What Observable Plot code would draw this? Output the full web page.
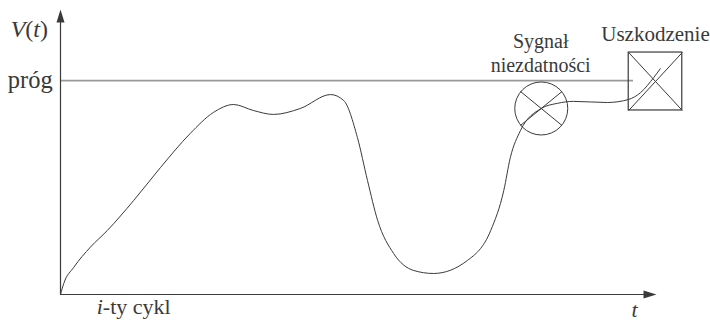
<!DOCTYPE html>
<html><head><meta charset="utf-8">
<script src="https://cdn.jsdelivr.net/npm/d3@7"></script>
<script src="https://cdn.jsdelivr.net/npm/@observablehq/plot@0.6"></script>
<style>
body{margin:0;background:#fff} svg{display:block}
svg text, svg tspan { font-family: "Liberation Serif", "Times New Roman", serif !important; }
</style>
</head><body><div id="chart"></div>
<script>
// Degradation signal V(t) over time (abstract units, 0–100)
const curveT = [0, 0.55, 2.24, 5.04, 7.85, 12.3, 16.8, 21.8, 25.7, 29.1, 32.4, 35.8, 40.3, 45.4, 47.6, 49.9, 51.6, 53.3, 56.0, 59.3, 62.7, 68.4, 72.3, 74.5, 75.6, 77.3, 80.8, 83.5, 86.2, 91.9, 95.5, 97.5, 99.7, 100.8];
const curveV = [0, 3.9, 9.6, 16.7, 22.5, 33.1, 44.7, 56.7, 64.1, 66.9, 64.8, 63.4, 65.5, 70.4, 68.3, 55.3, 40.1, 26.1, 14.4, 8.5, 7.4, 12.0, 22.5, 36.6, 48.2, 57.7, 65.5, 67.3, 68.0, 67.6, 68.7, 71.1, 76.4, 79.5];
const thresholdV = 75.3;
const thresholdEnd = 96.3;
// Failure-signal marker (circle with cross)
const signalT = 80.8, signalV = 65.5;
const signalCrossT = [[77.3, 84.3], [77.3, 84.3]];
const signalCrossV = [[71.5, 59.5], [59.5, 71.5]];
// Damage marker (box with cross)
const damageT = [95.5, 104.5];
const damageV = [64.8, 85.2];
// Labels
const axisLabels = ["V(t)", "próg", "i-ty cykl", "t"];
const noteLabels = ["Sygnał\nniezdatności", "Uszkodzenie"];

const curve = curveT.map((t, i) => ({t, v: curveV[i]}));
const ink = "#3a3a3a";
const font = '"Liberation Serif", "Times New Roman", serif';

const arrowHead = {draw(ctx) { ctx.moveTo(1, 0); ctx.lineTo(-12, -4); ctx.lineTo(-12, 4); ctx.closePath(); }};
const txt = {text: d => d, fill: ink, fontSize: 20};

const chart = Plot.plot({
  width: 710, height: 327,
  marginLeft: 60, marginRight: 55, marginTop: 10, marginBottom: 33,
  x: {domain: [0, 100], axis: null},
  y: {domain: [0, 100], axis: null},
  style: {fontFamily: font, background: "#fff"},
  marks: [
    Plot.ruleY([thresholdV], {x1: 0, x2: thresholdEnd, stroke: "#999", strokeWidth: 1.8}),
    Plot.ruleY([0], {x1: 0, x2: 99, stroke: ink, strokeWidth: 1.2}),
    Plot.ruleX([0], {y1: 0, y2: 99, stroke: ink, strokeWidth: 1.2}),
    Plot.dot([{x: 100, y: 0}], {x: "x", y: "y", symbol: () => arrowHead, r: 5, fill: ink, stroke: "none"}),
    Plot.dot([{x: 0, y: 100}], {x: "x", y: "y", symbol: () => arrowHead, r: 5, fill: ink, stroke: "none", rotate: -90}),
    Plot.line(curve, {x: "t", y: "v", curve: "monotone-x", stroke: ink, strokeWidth: 1}),
    Plot.dot([{t: signalT, v: signalV}], {x: "t", y: "v", r: 26.5, stroke: ink, strokeWidth: 1, fill: "none"}),
    Plot.link([0, 1], {x1: i => signalCrossT[i][0], x2: i => signalCrossT[i][1], y1: i => signalCrossV[i][0], y2: i => signalCrossV[i][1], stroke: ink, strokeWidth: 1}),
    Plot.rect([0], {x1: damageT[0], x2: damageT[1], y1: damageV[0], y2: damageV[1], stroke: ink, strokeWidth: 1.2, fill: "none"}),
    Plot.link([0, 1], {x1: damageT[0], x2: damageT[1], y1: i => damageV[i], y2: i => damageV[1 - i], stroke: ink, strokeWidth: 1}),
    Plot.text([axisLabels[0]], {...txt, x: -2.1, y: 93.3, textAnchor: "end", fontSize: 24, className: "lbl-v"}),
    Plot.text([axisLabels[1]], {...txt, x: -1.3, y: thresholdV, textAnchor: "end", fontSize: 24.5}),
    Plot.text([axisLabels[2]], {...txt, x: 12.3, y: -4.3, fontSize: 22, className: "lbl-i"}),
    Plot.text([axisLabels[3]], {...txt, x: 96.5, y: -5.3, fontSize: 22, fontStyle: "italic"}),
    Plot.text([noteLabels[0]], {...txt, x: 80.7, y: 85.2, lineHeight: 1.165}),
    Plot.text([noteLabels[1]], {...txt, x: 100, y: 91.8, fontSize: 21})
  ]
});
document.getElementById("chart").append(chart);

// Mixed italic/upright styling for math-like labels
function styleParts(cls, parts) {
  const t = chart.querySelector("g." + cls + " text");
  if (!t) return;
  t.textContent = "";
  for (const [s, it] of parts) {
    const ts = document.createElementNS("http://www.w3.org/2000/svg", "tspan");
    ts.textContent = s;
    if (it) ts.setAttribute("font-style", "italic");
    t.appendChild(ts);
  }
}
styleParts("lbl-v", [["V", true], ["(", false], ["t", true], [")", false]]);
styleParts("lbl-i", [["i", true], ["-ty cykl", false]]);
</script>
</body></html>
